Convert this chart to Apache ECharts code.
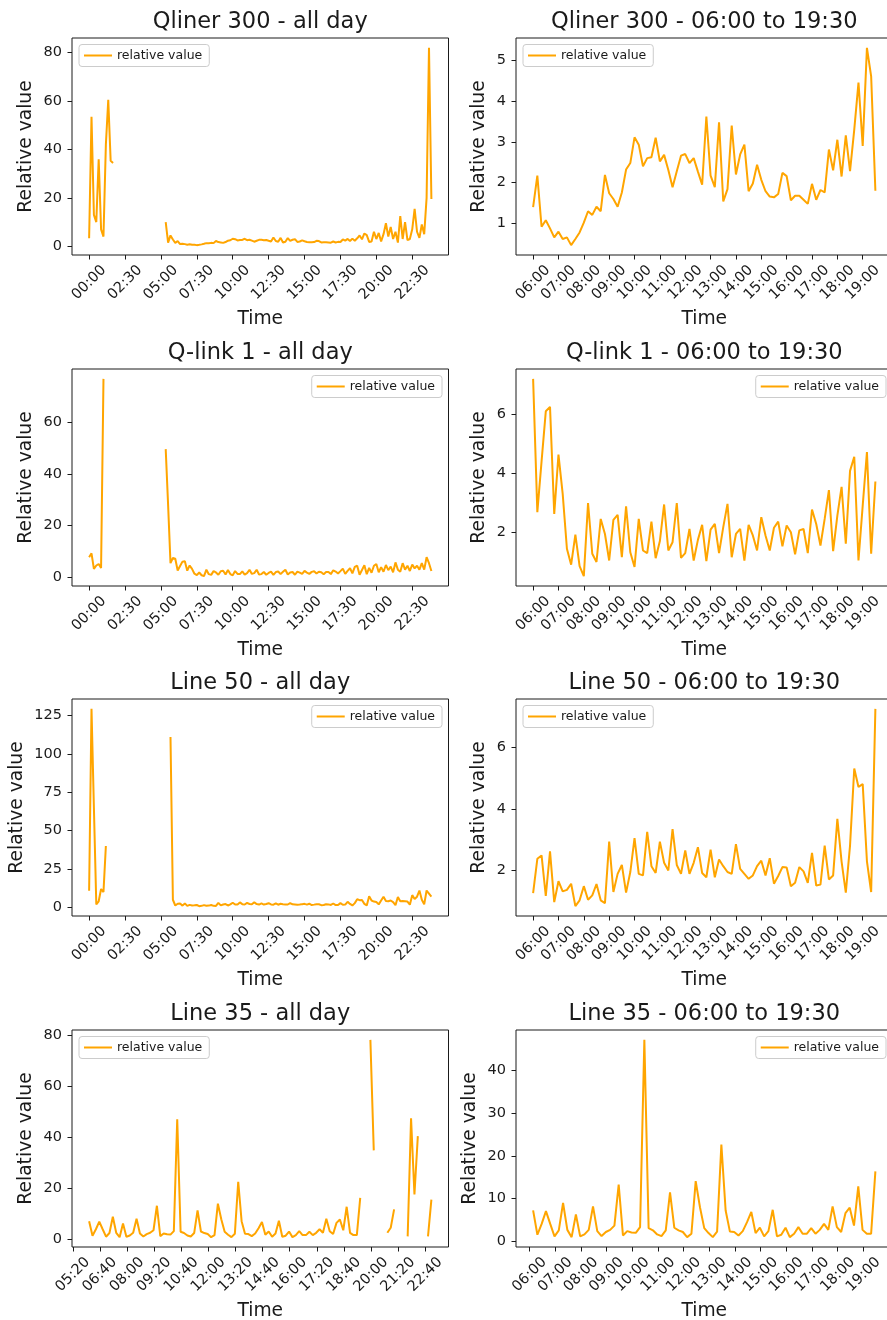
<!DOCTYPE html>
<html>
<head>
<meta charset="utf-8">
<title>Relative value per line</title>
<script src="https://cdn.jsdelivr.net/npm/echarts@6/dist/echarts.min.js"></script>
<style>
  html, body { margin: 0; padding: 0; background: #fff; overflow: hidden; }
  /* a little wider than the window: the right-hand frames fall just outside, as in the original figure */
  #chart { width: 900px; height: 1320px; }
</style>
</head>
<body>
<div id="chart"></div>
<script>
// tick labels
const allDayTicks = ['00:00', '02:30', '05:00', '07:30', '10:00', '12:30', '15:00', '17:30', '20:00', '22:30'];
const line35AllDayTicks = ['05:20', '06:40', '08:00', '09:20', '10:40', '12:00', '13:20', '14:40', '16:00', '17:20', '18:40', '20:00', '21:20', '22:40'];
const dayTicks = ['06:00', '07:00', '08:00', '09:00', '10:00', '11:00', '12:00', '13:00', '14:00', '15:00', '16:00', '17:00', '18:00', '19:00'];

const qlinerAllDayY = [0, 20, 40, 60, 80];
const qlinerDayY = [1, 2, 3, 4, 5];
const qlinkAllDayY = [0, 20, 40, 60];
const qlinkDayY = [2, 4, 6];
const line50AllDayY = [0, 25, 50, 75, 100, 125];
const line50DayY = [2, 4, 6];
const line35AllDayY = [0, 20, 40, 60, 80];
const line35DayY = [0, 10, 20, 30, 40];

// readings every 10 minutes, starting at the time given in the panel list below
const qlinerNight = [3.3, 53.5, 13, 10, 36, 7, 4, 42, 60.5, 35.3, 34.4];
const qlinerEarly = [10, 1.5, 4.5, 2.8];
const qlinerDay = [
  1.4, 2.17, 0.92, 1.08, 0.88, 0.66, 0.8, 0.62, 0.66, 0.47,
  0.62, 0.78, 1.02, 1.3, 1.21, 1.41, 1.3, 2.19, 1.74, 1.6,
  1.41, 1.76, 2.32, 2.48, 3.11, 2.93, 2.4, 2.6, 2.62, 3.1,
  2.52, 2.68, 2.31, 1.89, 2.28, 2.66, 2.7, 2.48, 2.6, 2.27,
  1.95, 3.62, 2.17, 1.89, 3.48, 1.54, 1.84, 3.4, 2.2, 2.69,
  2.93, 1.79, 1.98, 2.44, 2.07, 1.79, 1.66, 1.64, 1.72, 2.24,
  2.16, 1.57, 1.68, 1.68, 1.58, 1.48, 1.97, 1.58, 1.82, 1.76,
  2.81, 2.3, 3.05, 2.15, 3.16, 2.28, 3.3, 4.45, 2.9, 5.3,
  4.6, 1.8
];
const qlinerLate = [2, 6, 3, 5.5, 2, 5, 9.5, 4, 8, 3, 6, 1.5, 12.5, 3, 10, 2.5, 3, 7, 15.5, 6, 3.5, 9, 5, 20, 82, 19.5];

const qlinkNight = [7.8, 9.3, 3.3, 4.6, 5.2, 3.7, 76.6];
const qlinkEarly = [49.5, 28, 5.5, 7.5];
const qlinkDay = [
  7.2, 2.68, 4.4, 6.1, 6.25, 2.62, 4.63, 3.3, 1.44, 0.9,
  1.92, 0.85, 0.51, 2.99, 1.27, 0.99, 2.45, 1.94, 1.04, 2.42,
  2.59, 1.15, 2.88, 1.32, 0.82, 2.45, 1.38, 1.29, 2.36, 1.12,
  1.7, 2.94, 1.38, 1.66, 2.99, 1.13, 1.29, 2.11, 1.04, 1.74,
  2.25, 1.02, 2.09, 2.28, 1.29, 2.17, 2.96, 1.15, 1.94, 2.11,
  1.04, 2.25, 1.89, 1.38, 2.51, 1.89, 1.38, 2.15, 2.36, 1.52,
  2.23, 2.0, 1.25, 2.06, 2.11, 1.29, 2.77, 2.28, 1.55, 2.45,
  3.43, 1.36, 2.56, 3.54, 1.61, 4.08, 4.56, 1.04, 2.9, 4.72,
  1.27, 3.72
];
const qlinkLate = [1.8, 4.5, 5.2, 2.0, 4.0, 2.2, 4.8, 2.8, 4.2, 2.0, 5.8, 3.0, 2.2, 5.5, 3.0, 4.5, 2.5, 5.0, 3.5, 4.5, 3.0, 5.5, 3.0, 7.8, 5.5, 2.5];

const line50Night = [10.8, 129.3, 65, 2, 4, 12, 10, 40];
const line50Early = [111, 5];
const line50Day = [
  1.26, 2.38, 2.49, 1.17, 2.62, 0.97, 1.65, 1.32, 1.37, 1.57,
  0.84, 1.03, 1.49, 1.05, 1.19, 1.56, 1.03, 0.94, 2.94, 1.3,
  1.89, 2.18, 1.28, 1.95, 3.05, 1.89, 1.84, 3.26, 2.14, 1.92,
  2.94, 2.25, 2.0, 3.35, 2.18, 1.89, 2.65, 1.89, 2.25, 2.76,
  1.92, 1.78, 2.68, 1.78, 2.36, 2.14, 1.95, 1.89, 2.86, 2.05,
  1.89, 1.73, 1.84, 2.14, 2.32, 1.84, 2.4, 1.57, 1.82, 2.11,
  2.1, 1.49, 1.6, 2.11, 1.97, 1.6, 2.57, 1.51, 1.54, 2.81,
  1.71, 1.84, 3.68, 2.29, 1.28, 2.81, 5.32, 4.72, 4.81, 2.3,
  1.3, 7.26
];
const line50Late = [4.5, 3.8, 3.5, 2.0, 4.5, 7.0, 4.2, 4.0, 4.5, 3.5, 1.5, 6.8, 4.0, 4.2, 4.0, 3.8, 1.8, 8.0, 5.5, 7.0, 11.0, 5.0, 2.0, 11.0, 9.0, 7.0];

const line35Day = [
  7.25, 1.56, 4.1, 7.1, 4.1, 1.17, 2.6, 9.0, 2.7, 1.0,
  6.3, 1.17, 1.64, 2.7, 8.2, 2.4, 1.25, 2.2, 2.7, 3.7,
  13.3, 1.4, 2.4, 2.1, 2.0, 3.35, 47.2, 3.1, 2.6, 1.64,
  1.25, 2.6, 11.5, 3.2, 2.6, 2.2, 1.0, 1.8, 14.1, 8.0,
  3.1, 1.95, 1.0, 2.3, 22.7, 7.25, 2.3, 2.2, 1.4, 2.4,
  4.5, 6.9, 1.95, 3.2, 1.17, 2.4, 7.4, 1.17, 1.56, 3.2,
  1.0, 1.8, 3.35, 1.8, 1.8, 3.1, 1.8, 2.7, 4.1, 2.7,
  8.2, 3.35, 2.2, 6.6, 7.9, 3.7, 12.9, 2.7, 1.8, 1.8,
  16.4
];
const line35Eve1 = [78.3, 35];
const line35Eve2 = [2.7, 4.7, 11.9];
const line35Eve3 = [1.3, 47.6, 17.7, 40.6];
const line35Eve4 = [1.3, 15.7];

const panels = [
  { title: 'Qliner 300 - all day', parts: [['00:00', qlinerNight], ['05:20', qlinerEarly], ['06:00', qlinerDay], ['19:40', qlinerLate]], xTicks: allDayTicks, yTicks: qlinerAllDayY, legend: 'left' },
  { title: 'Qliner 300 - 06:00 to 19:30', parts: [['06:00', qlinerDay]], xTicks: dayTicks, yTicks: qlinerDayY, legend: 'left' },
  { title: 'Q-link 1 - all day', parts: [['00:00', qlinkNight], ['05:20', qlinkEarly], ['06:00', qlinkDay], ['19:40', qlinkLate]], xTicks: allDayTicks, yTicks: qlinkAllDayY, legend: 'right' },
  { title: 'Q-link 1 - 06:00 to 19:30', parts: [['06:00', qlinkDay]], xTicks: dayTicks, yTicks: qlinkDayY, legend: 'right' },
  { title: 'Line 50 - all day', parts: [['00:00', line50Night], ['05:40', line50Early], ['06:00', line50Day], ['19:40', line50Late]], xTicks: allDayTicks, yTicks: line50AllDayY, legend: 'right' },
  { title: 'Line 50 - 06:00 to 19:30', parts: [['06:00', line50Day]], xTicks: dayTicks, yTicks: line50DayY, legend: 'left' },
  { title: 'Line 35 - all day', parts: [['06:08', line35Day], ['19:58', line35Eve1], ['20:48', line35Eve2], ['21:48', line35Eve3], ['22:48', line35Eve4]], xTicks: line35AllDayTicks, yTicks: line35AllDayY, legend: 'left' },
  { title: 'Line 35 - 06:00 to 19:30', parts: [['06:08', line35Day]], xTicks: dayTicks, yTicks: line35DayY, legend: 'right' }
];

const hm = (s) => { const [h, m] = s.split(':').map(Number); return h * 60 + m; };
const two = (n) => String(n).padStart(2, '0');
const fmt = (v) => two(Math.floor(v / 60)) + ':' + two(Math.round(v % 60));

// 10 minute runs -> [minute, value]; a null point breaks the line over missing readings
function toPoints(parts) {
  const pts = [];
  let last = null;
  parts.forEach(([start, vals]) => {
    const t0 = hm(start);
    if (last !== null && t0 > last + 10) pts.push([last + 10, null]);
    vals.forEach((v, i) => pts.push([t0 + i * 10, v]));
    last = t0 + (vals.length - 1) * 10;
  });
  return pts;
}

// 5% margin on each side, like matplotlib autoscale
function pad(lo, hi) {
  const d = (hi - lo) * 0.05;
  return [lo - d, hi + d];
}

const W = 900;
const colLeft = [72, 516];
const rowTop = [38, 369, 699, 1030];
const plotW = 376.5;
const plotH = 217;
const ink = '#1a1a1a';
const orange = '#FFA500';
const font = 'DejaVu Sans';

const option = {
  animation: false,
  backgroundColor: '#fff',
  textStyle: { fontFamily: font },
  title: [], legend: [], grid: [], xAxis: [], yAxis: [], series: []
};

panels.forEach((p, k) => {
  const left = colLeft[k % 2];
  const top = rowTop[Math.floor(k / 2)];
  const pts = toPoints(p.parts);
  const times = pts.map(d => d[0]);
  const vals = pts.map(d => d[1]).filter(v => v !== null);
  const [xMin, xMax] = pad(Math.min(...times), Math.max(...times));
  const [yMin, yMax] = pad(Math.min(...vals), Math.max(...vals));
  const xTickVals = p.xTicks.map(hm);
  const widest = Math.max(...p.yTicks.map(v => String(v).length));

  option.title.push({
    text: p.title,
    left: left + plotW / 2,
    top: top - 29,
    textAlign: 'center',
    padding: 0,
    textStyle: { fontSize: 22.5, fontWeight: 'normal', color: ink, fontFamily: font, lineHeight: 26 }
  });

  const legend = {
    data: ['relative value'],
    top: top + 6.5,
    icon: 'rect',
    itemWidth: 28,
    itemHeight: 2,
    padding: [4, 7, 4, 5],
    backgroundColor: '#fff',
    borderColor: '#cccccc',
    borderWidth: 1,
    borderRadius: 3,
    selectedMode: false,
    textStyle: { fontSize: 12.5, color: ink, fontFamily: font, lineHeight: 14 }
  };
  if (p.legend === 'left') legend.left = left + 7;
  else legend.right = W - (left + plotW - 6.5);
  option.legend.push(legend);

  option.grid.push({
    left: left, top: top, width: plotW, height: plotH,
    show: true, borderColor: ink, borderWidth: 1, backgroundColor: 'transparent',
    containLabel: false, outerBoundsMode: 'none'
  });

  option.xAxis.push({
    gridIndex: k, type: 'value', min: xMin, max: xMax,
    name: 'Time', nameLocation: 'middle', nameGap: 55, nameMoveOverlap: false,
    nameTextStyle: { fontSize: 18.7, color: ink, fontFamily: font },
    axisLine: { show: false, onZero: false },
    axisTick: { show: true, length: 4.5, lineStyle: { color: ink }, customValues: xTickVals },
    axisLabel: {
      rotate: 45, align: 'center', verticalAlign: 'middle', margin: 27.5,
      fontSize: 14.5, color: ink, fontFamily: font,
      customValues: xTickVals, formatter: fmt
    },
    splitLine: { show: false }
  });

  option.yAxis.push({
    gridIndex: k, type: 'value', min: yMin, max: yMax,
    name: 'Relative value', nameLocation: 'middle', nameGap: 18 + 9.2 * widest, nameMoveOverlap: false,
    nameTextStyle: { fontSize: 18.7, color: ink, fontFamily: font },
    axisLine: { show: false, onZero: false },
    axisTick: { show: true, length: 4.5, lineStyle: { color: ink }, customValues: p.yTicks },
    axisLabel: {
      margin: 10, fontSize: 14.5, color: ink, fontFamily: font,
      customValues: p.yTicks, formatter: (v) => String(v)
    },
    splitLine: { show: false }
  });

  option.series.push({
    type: 'line',
    name: 'relative value',
    xAxisIndex: k,
    yAxisIndex: k,
    data: pts,
    showSymbol: false,
    symbol: 'none',
    connectNulls: false,
    silent: true,
    lineStyle: { color: orange, width: 2 },
    itemStyle: { color: orange }
  });
});

const chart = echarts.init(document.getElementById('chart'));
chart.setOption(option);
</script>
</body>
</html>
